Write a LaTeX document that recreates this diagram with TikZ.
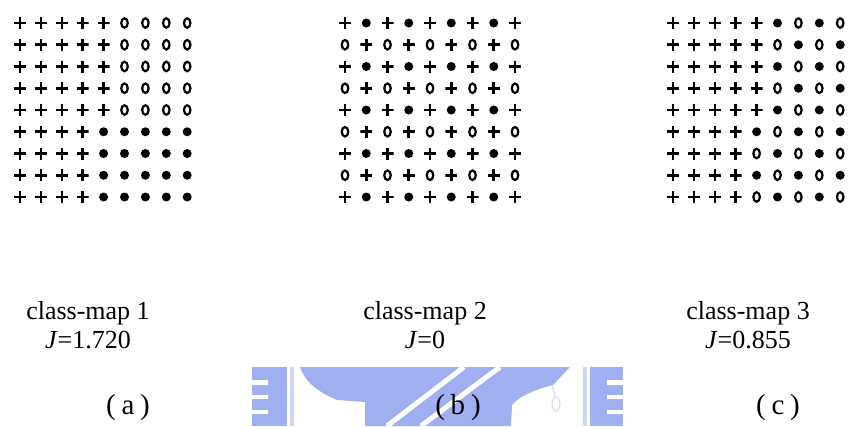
\documentclass[tikz,border=0pt]{standalone}
\usepackage{fontspec}
\setmainfont{Liberation Serif}
\usetikzlibrary{shapes.geometric}

\definecolor{wmblue}{RGB}{160,175,240}
\definecolor{wmpale}{RGB}{205,214,246}

\begin{document}
\begin{tikzpicture}[x=1pt, y=-1pt,
    plussym/.style={rectangle, inner sep=0pt, minimum size=12pt,
      path picture={\draw[line width=2.6pt] (path picture bounding box.north) -- (path picture bounding box.south)
        (path picture bounding box.west) -- (path picture bounding box.east);}},
    ringsym/.style={ellipse, draw, line width=2.2pt, inner sep=0pt, minimum width=6.5pt, minimum height=9.5pt},
    dotsym/.style={circle, fill, inner sep=0pt, minimum size=9pt},
    sym/.code={\ifcase#1\pgfkeysalso{plussym}\or\pgfkeysalso{ringsym}\or\pgfkeysalso{dotsym}\fi},
    caption/.style={align=center, font=\fontsize{26}{29}\selectfont},
    sublabel/.style={font=\fontsize{29}{31}\selectfont}
]
\useasboundingbox (0,0) rectangle (850,426);

% watermark
\fill[wmblue] (252,367) rectangle (287,426);
\fill[white] (252,380) rectangle (268,385) (252,395) rectangle (268,399) (252,410) rectangle (268,414);
\fill[wmpale] (290,367) rectangle (294,426);
\fill[wmblue] (300,367) -- (570,367) -- (553,385) .. controls (540,388) and (520,395) .. (512,405)
  -- (511,426) -- (365,426) -- (365,402) -- (337,400) .. controls (318,392) and (305,382) .. (300,367) -- cycle;
\draw[white, line width=5pt] (464,367) -- (387,426) (500,367) -- (421,426);
\draw[wmpale, line width=1pt] (552,385) -- (555,396) (556,404) ellipse (4 and 7);
\fill[wmpale] (583,367) rectangle (587,426);
\fill[wmblue] (590,367) rectangle (623,426);
\fill[white] (607,380) rectangle (623,385) (607,395) rectangle (623,399) (607,410) rectangle (623,414);

% class-map 1
\foreach \i in {1,...,9}
  \foreach \j in {1,...,9}{
    \pgfmathtruncatemacro\t{(\i<=5) ? ((\j<=5) ? 0 : 1) : ((\j<=4) ? 0 : 2)}
    \node[sym=\t] (a-\i-\j) at ({20+20.9*(\j-1)}, {23+21.75*(\i-1)}) {};
  }
% class-map 2
\foreach \i in {1,...,9}
  \foreach \j in {1,...,9}{
    \pgfmathtruncatemacro\t{isodd(\i) ? (isodd(\j) ? 0 : 2) : (isodd(\j) ? 1 : 0)}
    \node[sym=\t] (b-\i-\j) at ({345+21.25*(\j-1)}, {23+21.75*(\i-1)}) {};
  }
% class-map 3
\foreach \i in {1,...,9}
  \foreach \j in {1,...,9}{
    \pgfmathtruncatemacro\t{(\j <= ((\i<=5) ? 5 : 4)) ? 0 : (isodd(\i+\j) ? 2 : 1)}
    \node[sym=\t] (c-\i-\j) at ({673+20.9*(\j-1)}, {23+21.75*(\i-1)}) {};
  }

\node[caption] (cap1) at (88,325) {class-map 1\\\textit{J}=1.720};
\node[caption] (cap2) at (425,325) {class-map 2\\\textit{J}=0};
\node[caption] (cap3) at (748,325) {class-map 3\\\textit{J}=0.855};

\node[sublabel] (lab1) at (128,408) {(\hspace{0.2em}a\hspace{0.2em})};
\node[sublabel] (lab2) at (458,408) {(\hspace{0.2em}b\hspace{0.2em})};
\node[sublabel] (lab3) at (778,408) {(\hspace{0.2em}c\hspace{0.2em})};
\end{tikzpicture}
\end{document}
